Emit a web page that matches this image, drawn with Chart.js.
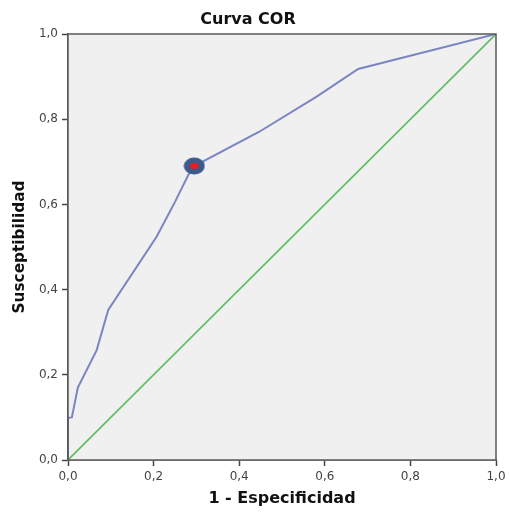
<!DOCTYPE html>
<html>
<head>
<meta charset="utf-8">
<script src="https://cdn.jsdelivr.net/npm/chart.js@4"></script>
<style>
html,body{margin:0;padding:0;background:#fff;}
#wrap{width:510px;height:516px;}
</style>
</head>
<body>
<div id="wrap"><canvas id="c" width="510" height="516"></canvas></div>
<script>
// Data
const rocX = [0, 0, 0.009, 0.023, 0.067, 0.094, 0.207, 0.25, 0.281, 0.295, 0.446, 0.581, 0.678, 1.0];
const rocY = [0, 0.099, 0.1, 0.17, 0.258, 0.352, 0.524, 0.606, 0.669, 0.69, 0.77, 0.853, 0.918, 1.0];
const refX = [0, 1];
const refY = [0, 1];
const cutX = [0.295];
const cutY = [0.69];
const tickValues = [0, 0.2, 0.4, 0.6, 0.8, 1.0];
const titleText = 'Curva COR';
const xTitle = '1 - Especificidad';
const yTitle = 'Susceptibilidad';

const toPts = (xs, ys) => xs.map((x, i) => ({x: x, y: ys[i]}));
const fmt = v => Number(v).toFixed(1).replace('.', ',');

// marker image: dark blue ellipse with red centre
const mk = document.createElement('canvas');
mk.width = 22; mk.height = 18;
(function(){
  const g = mk.getContext('2d');
  g.fillStyle = '#3b5b8c';
  g.beginPath(); g.ellipse(11, 9, 10.5, 8.5, 0, 0, Math.PI*2); g.fill();
  g.fillStyle = '#ee1c1c';
  g.beginPath(); g.ellipse(11, 9, 4.5, 3, 0, 0, Math.PI*2); g.fill();
})();

const framePlugin = {
  id: 'frame',
  beforeDatasetsDraw(chart) {
    const {ctx, chartArea: a} = chart;
    ctx.save();
    ctx.fillStyle = '#f0f0f0';
    ctx.fillRect(a.left, a.top, a.right - a.left, a.bottom - a.top);
    ctx.restore();
  },
  afterDatasetsDraw(chart) {
    const {ctx, chartArea: a} = chart;
    ctx.save();
    ctx.strokeStyle = '#5a5a5a';
    ctx.lineWidth = 1.5;
    ctx.strokeRect(a.left, a.top, a.right - a.left, a.bottom - a.top);
    ctx.restore();
  }
};

new Chart(document.getElementById('c'), {
  type: 'scatter',
  data: {
    datasets: [
      {
        data: toPts(refX, refY),
        showLine: true,
        borderColor: '#5cbf62',
        borderWidth: 1.6,
        pointRadius: 0,
        order: 3
      },
      {
        data: toPts(rocX, rocY),
        showLine: true,
        borderColor: '#7c84c2',
        borderWidth: 2,
        pointRadius: 0,
        order: 2
      },
      {
        data: toPts(cutX, cutY),
        pointStyle: mk,
        pointRadius: 10,
        order: 1
      }
    ]
  },
  options: {
    responsive: false,
    animation: false,
    devicePixelRatio: 1,
    layout: {padding: {left: 0, right: 14, top: 0, bottom: 0}},
    plugins: {
      legend: {display: false},
      tooltip: {enabled: false},
      title: {
        display: true,
        text: titleText,
        color: '#111',
        font: {family: 'DejaVu Sans', size: 16, weight: 'bold'},
        padding: {top: 10.5, bottom: 4.3}
      }
    },
    scales: {
      x: {
        type: 'linear',
        min: 0, max: 1,
        afterBuildTicks(s) { s.ticks = tickValues.map(v => ({value: v})); },
        afterFit(s) { s.height = 56; },
        ticks: {
          callback: fmt,
          color: '#444',
          font: {family: 'DejaVu Sans', size: 12},
          padding: 4,
          maxRotation: 0
        },
        grid: {drawOnChartArea: false, drawTicks: true, tickLength: 6, tickColor: '#444', tickWidth: 1.5},
        border: {display: true, color: '#5a5a5a', width: 1.5},
        title: {
          display: true,
          text: xTitle,
          color: '#111',
          font: {family: 'DejaVu Sans', size: 16, weight: 'bold'},
          padding: {top: 0, bottom: 8}
        }
      },
      y: {
        type: 'linear',
        min: 0, max: 1,
        afterBuildTicks(s) { s.ticks = tickValues.map(v => ({value: v})); },
        afterFit(s) { s.width = 68; },
        ticks: {
          callback: fmt,
          color: '#444',
          font: {family: 'DejaVu Sans', size: 12},
          padding: 4
        },
        grid: {drawOnChartArea: false, drawTicks: true, tickLength: 6, tickColor: '#444', tickWidth: 1.5},
        border: {display: true, color: '#5a5a5a', width: 1.5},
        title: {
          display: true,
          text: yTitle,
          color: '#111',
          font: {family: 'DejaVu Sans', size: 15.3, weight: 'bold'},
          padding: {top: 11, bottom: 0}
        }
      }
    }
  },
  plugins: [framePlugin]
});
</script>
</body>
</html>
